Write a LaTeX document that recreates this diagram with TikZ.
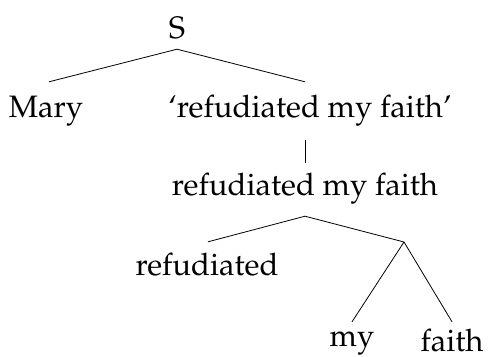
\documentclass[tikz,border=0pt]{standalone}
\usepackage[T1]{fontenc}
\usepackage{mathpazo}
\tikzset{
  lbl/.style={font=\fontsize{31}{37}\selectfont, inner sep=0pt, text height=21pt, text depth=7pt, anchor=base},
  br/.style={line width=0.8pt}
}
\begin{document}
\begin{tikzpicture}[x=1pt,y=-1pt]
\useasboundingbox (0,0) rectangle (489,356);
\node[lbl] (S) at (177,38) {S};
\node[lbl] (mary) at (46,117) {Mary};
\node[lbl] (q1) at (310,117) {`refudiated my faith'};
\node[lbl] (q2) at (305,195) {refudiated my faith};
\node[lbl] (ref) at (207,275) {refudiated};
\coordinate (j) at (404,242);
\node[lbl] (my) at (352,346) {my};
\node[lbl, text depth=0pt] (faith) at (452,351) {faith};
\draw[br] ([yshift=-4pt]S.south) -- ([xshift=3pt,yshift=14pt]mary.north);
\draw[br] ([yshift=-4pt]S.south) -- ([xshift=-5pt,yshift=14pt]q1.north);
\draw[br] ([xshift=-5pt,yshift=-16pt]q1.south) -- ([yshift=11pt]q2.north);
\draw[br] ([yshift=-14pt]q2.south) -- ([xshift=1pt,yshift=12pt]ref.north);
\draw[br] ([yshift=-14pt]q2.south) -- (j);
\draw[br] (j) -- ([yshift=3pt]my.north);
\draw[br] (j) -- ([yshift=8pt]faith.north);
\end{tikzpicture}
\end{document}
